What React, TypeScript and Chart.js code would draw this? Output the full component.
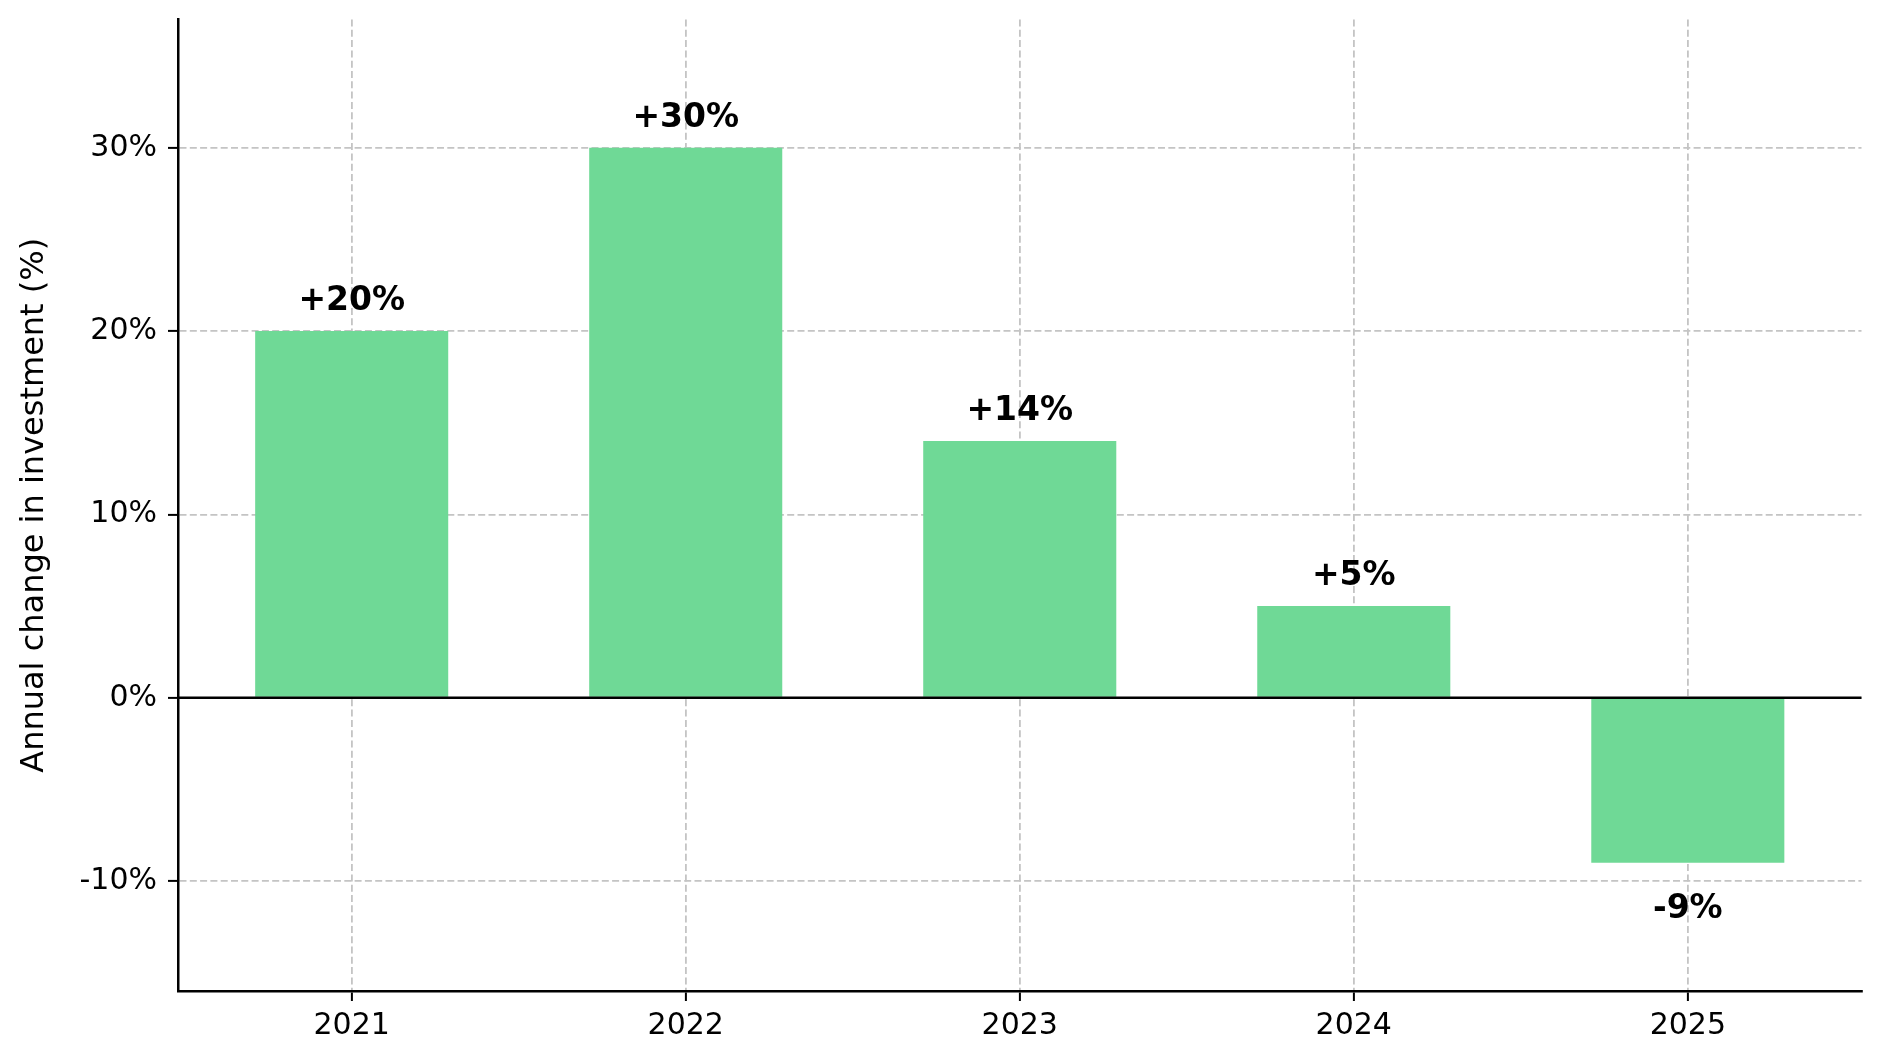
import React, { useEffect, useRef } from "react";
import { Chart, registerables } from "chart.js";

Chart.register(...registerables);

const years = ["2021", "2022", "2023", "2024", "2025"];
const changes = [20, 30, 14, 5, -9];
const yTicks = [-10, 0, 10, 20, 30];
const yTitle = "Annual change in investment (%)";

const BAR_COLOR = "rgb(111,217,150)";
const GRID_COLOR = "#c4c4c4";
const FONT = "'DejaVu Sans', sans-serif";

const overlayPlugin = {
  id: "overlay",
  afterDatasetsDraw(chart: any) {
    const ctx = chart.ctx;
    const area = chart.chartArea;
    const yScale = chart.scales.y;
    // zero line
    const y0 = yScale.getPixelForValue(0);
    ctx.save();
    ctx.setLineDash([]);
    ctx.strokeStyle = "#000";
    ctx.lineWidth = 2.5;
    ctx.beginPath();
    ctx.moveTo(area.left, y0);
    ctx.lineTo(area.right, y0);
    ctx.stroke();
    // value labels
    const meta = chart.getDatasetMeta(0);
    ctx.fillStyle = "#000";
    ctx.font = `bold 33px ${FONT}`;
    ctx.textAlign = "center";
    ctx.textBaseline = "alphabetic";
    meta.data.forEach((el: any, i: number) => {
      const v = changes[i];
      const txt = (v > 0 ? "+" : "") + v + "%";
      const y = v >= 0 ? el.y - 21 : el.y + 55;
      ctx.fillText(txt, el.x, y);
    });
    ctx.restore();
  },
  afterDraw(chart: any) {
    const ctx = chart.ctx;
    const area = chart.chartArea;
    ctx.save();
    ctx.fillStyle = "#000";
    ctx.font = `32px ${FONT}`;
    ctx.textAlign = "center";
    ctx.textBaseline = "alphabetic";
    ctx.translate(43, (area.top + area.bottom) / 2);
    ctx.rotate(-Math.PI / 2);
    ctx.fillText(yTitle, 0, 0);
    ctx.restore();
  },
};

const gridOpts = {
  color: GRID_COLOR,
  lineWidth: 1.8,
  offset: false,
  drawTicks: true,
  tickLength: 10,
  tickColor: "#000",
  tickWidth: 2,
  tickBorderDash: [],
};

const borderOpts = { display: true, color: "#000", width: 2.5, dash: [7, 3.3] };

export default function App() {
  const ref = useRef<HTMLCanvasElement | null>(null);

  useEffect(() => {
    if (!ref.current) return;
    Chart.defaults.font.family = FONT;
    const chart = new Chart(ref.current, {
      type: "bar",
      data: {
        datasets: [
          {
            data: changes.map((v, i) => ({ x: i, y: v })),
            backgroundColor: BAR_COLOR,
            borderWidth: 0,
            barPercentage: 0.578,
            categoryPercentage: 1,
          },
        ],
      },
      options: {
        animation: false,
        responsive: false,
        devicePixelRatio: 1,
        layout: { padding: { top: 19.5, right: 18.5, left: 0, bottom: 0 } },
        plugins: {
          legend: { display: false },
          tooltip: { enabled: false },
        },
        scales: {
          x: {
            type: "linear",
            min: -0.52,
            max: 4.52,
            offset: false,
            afterBuildTicks: (scale: any) => {
              scale.ticks = years.map((_, i) => ({ value: i }));
            },
            afterFit: (scale: any) => {
              scale.height = 69;
              scale.paddingLeft = 0;
              scale.paddingRight = 0;
            },
            ticks: {
              color: "#000",
              font: { size: 30, family: FONT },
              padding: 7.5,
              maxRotation: 0,
              autoSkip: false,
              callback: (v: any) => years[Math.round(Number(v))] ?? "",
            },
            grid: gridOpts,
            border: borderOpts,
          },
          y: {
            type: "linear",
            min: -16,
            max: 37,
            afterBuildTicks: (scale: any) => {
              scale.ticks = yTicks.map((v) => ({ value: v }));
            },
            afterFit: (scale: any) => {
              scale.width = 178;
              scale.paddingTop = 0;
              scale.paddingBottom = 0;
            },
            ticks: {
              color: "#000",
              font: { size: 30, family: FONT },
              padding: 11,
              callback: (v: any) => v + "%",
            },
            grid: gridOpts,
            border: borderOpts,
          },
        },
      },
      plugins: [overlayPlugin],
    });
    return () => chart.destroy();
  }, []);

  return (
    <div style={{ position: "absolute", left: 0, top: 0, width: 1880, height: 1060, background: "#fff" }}>
      <canvas ref={ref} width={1880} height={1060} style={{ width: 1880, height: 1060, display: "block" }} />
    </div>
  );
}
